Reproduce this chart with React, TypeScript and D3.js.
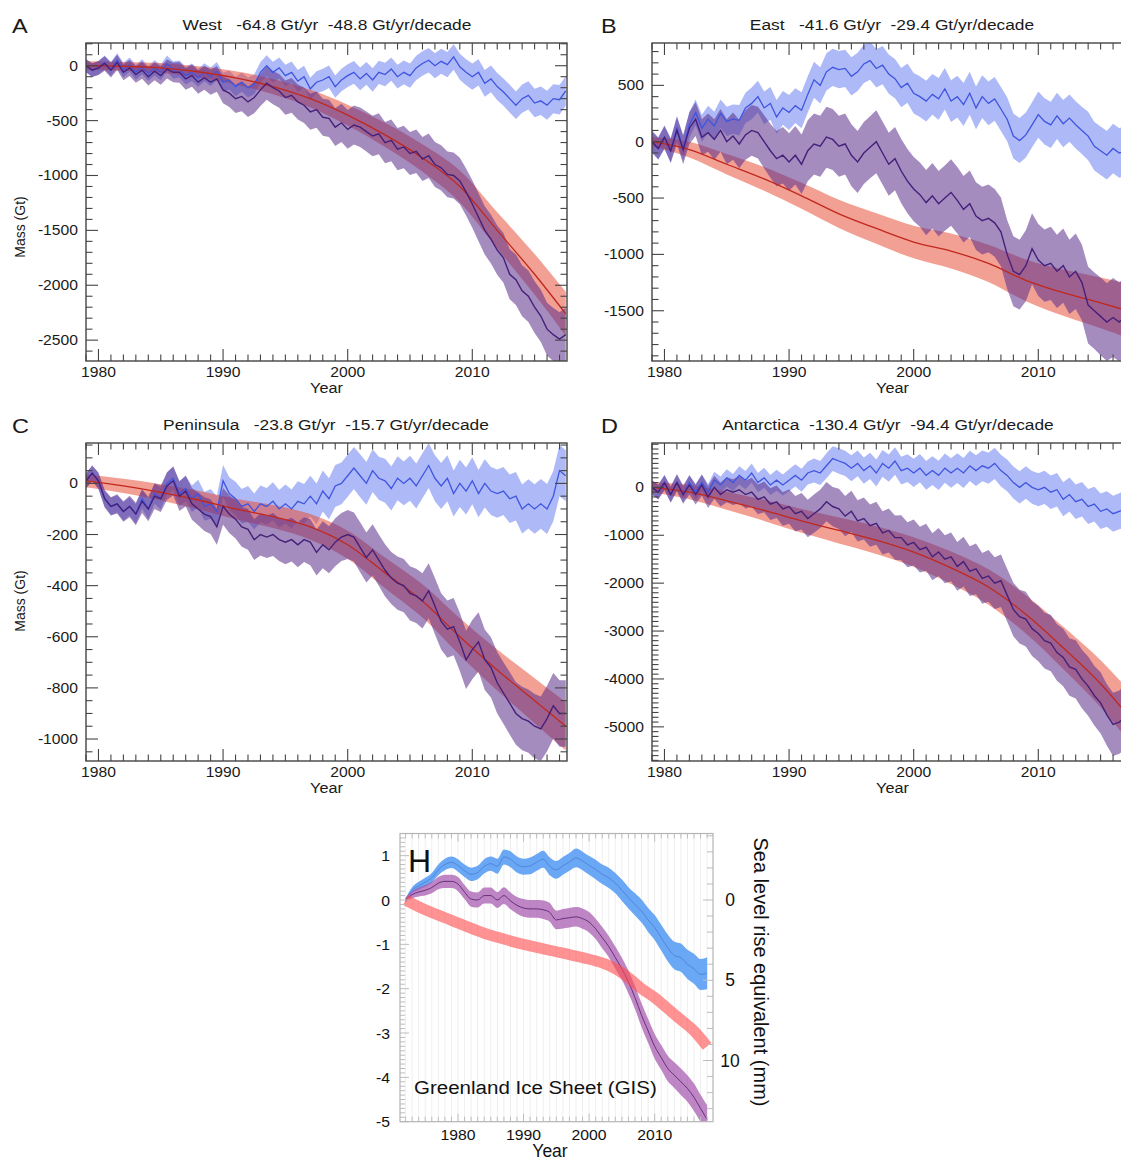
import React from 'react';
import * as d3 from 'd3';

// ---------- shared axis data ----------
const HALF_YEARS = d3.range(0, 78).map((i) => 1979 + i / 2);
const RED_YEARS = [1979, 1982, 1985, 1988, 1991, 1994, 1997, 2000, 2003, 2006, 2009, 2012, 2015, 2017.5];
const X_LABELS = [1980, 1990, 2000, 2010];

// ---------- A: West ----------
const WEST_BLUE = [
  0, -40, -20, 30, -30, 50, -40, 10, -60, -10, -70, -20, -60, 20,
  -40, -30, -90, -60, -110, -60, -100, -50, -150, -130, -190, -150, -200, -170,
  -60, 0, -60, -20, -90, -60, -140, -100, -210, -150, -130, -100, -190, -130, -90, -60, -120, -70, -130, -60, -80, -30, -100, -60,
  -90, -20, 20, 50, 0, 40, 10, 80, -10, -60, -100, -60, -160, -120, -190, -240,
  -300, -360, -300, -270, -340, -320, -360, -300, -310, -230,
];
const WEST_BLUE_ERR = [
  60, 60, 62, 62, 64, 64, 66, 66, 68, 68, 70, 70, 72, 72,
  78, 78, 80, 80, 82, 82, 84, 84, 86, 86, 88, 88, 90, 90,
  95, 95, 96, 96, 98, 98, 100, 100, 100, 100, 102, 102, 102, 102, 104, 104, 104, 104, 106, 106, 106, 106, 108, 108,
  110, 110, 112, 112, 114, 114, 116, 116, 118, 118, 120, 120, 122, 122, 124, 124,
  126, 126, 128, 128, 130, 130, 132, 132, 134, 134,
];
const WEST_PURPLE = [
  0, -40, -20, 20, -40, 30, -60, -20, -80, -40, -100, -50, -90, -30,
  -60, -60, -120, -90, -150, -110, -150, -120, -220, -250, -300, -280, -330, -290,
  -220, -160, -200, -230, -290, -270, -330, -360, -420, -400, -470, -480, -560, -520, -580, -540, -560, -600, -640, -620, -700, -680, -760, -740,
  -800, -780, -850, -820, -900, -930, -990, -1000, -1050, -1150, -1260, -1380, -1500, -1580, -1680, -1750,
  -1900, -1950, -2050, -2100, -2200, -2280, -2400, -2450, -2490, -2450,
];
const WEST_PURPLE_ERR = [
  60, 62, 64, 66, 68, 70, 72, 74, 76, 78, 80, 82, 84, 86,
  90, 94, 98, 102, 106, 110, 114, 118, 122, 126, 130, 134, 138, 142,
  146, 150, 152, 154, 156, 158, 160, 162, 164, 166, 168, 170, 172, 174, 176, 178, 180, 182, 184, 186, 188, 190, 192, 194,
  196, 198, 200, 202, 204, 206, 208, 210, 212, 214, 216, 218, 220, 222, 224, 226,
  228, 230, 232, 234, 236, 238, 240, 242, 244, 246,
];
const WEST_RED = [0, -5, -20, -55, -110, -190, -300, -450, -630, -840, -1100, -1500, -1900, -2260];
const WEST_RED_ERR = [40, 40, 45, 50, 60, 70, 80, 95, 110, 125, 145, 165, 185, 200];
const WEST_YTICKS = [0, -500, -1000, -1500, -2000, -2500];

// ---------- B: East ----------
const EAST_BLUE = [
  0, -60, 40, -80, 120, -60, 150, 260, 120, 200, 140, 250, 180, 200,
  190, 300, 340, 400, 300, 340, 220, 300, 260, 320, 280, 420, 550, 500,
  620, 660, 640, 650, 580, 620, 690, 720, 650, 680, 600, 560, 480, 520, 430, 400, 360, 420, 380, 470, 360, 400, 330, 430,
  300, 400, 340, 380, 290, 200, 50, 10, 60, 150, 240, 180, 150, 230, 160, 210,
  150, 100, 50, -40, -80, -120, -60, -100, -80, -50,
];
const EAST_BLUE_ERR = [
  100, 100, 105, 105, 110, 110, 115, 115, 120, 120, 125, 125, 130, 130,
  135, 135, 140, 140, 145, 145, 150, 150, 155, 155, 160, 160, 160, 160,
  165, 165, 165, 165, 170, 170, 170, 170, 170, 170, 175, 175, 175, 175, 180, 180, 180, 180, 185, 185, 185, 185, 190, 190,
  190, 190, 195, 195, 195, 195, 200, 200, 200, 200, 205, 205, 205, 205, 210, 210,
  210, 210, 215, 215, 215, 215, 220, 220, 220, 220,
];
const EAST_PURPLE = [
  0, -60, 40, -80, 100, -70, 120, 200, 40, 80, 20, 100, 0, 50,
  -20, 60, 100, 80, 0, -80, -150, -120, -180, -120, -200, -80, -20, -40,
  40, 20, -40, -20, -120, -180, -100, -50, 0, -100, -200, -150, -260, -350, -420, -470, -540, -480, -550, -500, -450, -520, -600, -550,
  -660, -700, -680, -720, -800, -1000, -1150, -1180, -1100, -950, -1050, -1100, -1080, -1150, -1100, -1200,
  -1150, -1250, -1450, -1500, -1550, -1600, -1560, -1600, -1550, -1500,
];
const EAST_PURPLE_ERR = [
  90, 95, 100, 110, 120, 130, 140, 150, 160, 170, 180, 190, 200, 210,
  215, 220, 225, 230, 235, 240, 245, 250, 255, 260, 265, 270, 270, 270,
  270, 270, 270, 270, 275, 275, 275, 275, 280, 280, 280, 280, 285, 285, 285, 285, 290, 290, 290, 290, 295, 295, 295, 295, 300, 300,
  300, 300, 305, 305, 310, 310, 315, 315, 320, 320, 325, 325, 330, 330, 335, 335,
  340, 340, 345, 345, 350, 350, 355, 355, 360, 360,
];
const EAST_RED = [0, -70, -200, -330, -480, -640, -770, -890, -970, -1080, -1230, -1340, -1430, -1510];
const EAST_RED_ERR = [40, 70, 90, 105, 115, 125, 135, 145, 155, 165, 185, 205, 225, 245];
const EAST_YTICKS = [500, 0, -500, -1000, -1500];

// ---------- C: Peninsula ----------
const PEN_BLUE = [
  10, 40, 10, -60, -90, -80, -110, -90, -120, -60, -100, -40, -60, 0,
  20, -40, -20, -60, -40, -90, -80, -110, 10, -40, -60, -90, -80, -110,
  -80, -90, -70, -100, -80, -100, -70, -80, -50, -80, -30, -60, -10, 0, 30, 60, 30, 0, 50, 20, 10, -20, 20, 0,
  20, -10, 30, 70, 20, -10, 20, -40, 0, -30, 10, -40, 0, -30, -40, -30,
  -60, -50, -100, -80, -100, -80, -100, -50, 50, 30,
];
const PEN_BLUE_ERR = [
  30, 30, 32, 32, 34, 34, 36, 36, 38, 38, 40, 40, 42, 42,
  46, 48, 50, 52, 54, 56, 58, 60, 62, 64, 66, 68, 70, 70,
  72, 72, 74, 74, 76, 76, 78, 78, 80, 80, 80, 80, 82, 82, 82, 82, 84, 84, 84, 84, 86, 86, 86, 86,
  88, 88, 88, 88, 90, 90, 90, 90, 92, 92, 92, 92, 94, 94, 94, 94,
  95, 95, 96, 96, 97, 97, 98, 98, 100, 100,
];
const PEN_PURPLE = [
  10, 40, 10, -60, -90, -80, -110, -90, -120, -70, -100, -50, -60, -10,
  10, -50, -30, -80, -100, -120, -130, -170, -90, -120, -140, -170, -180, -220,
  -200, -210, -200, -220, -230, -220, -240, -220, -230, -270, -240, -260, -230, -210, -200, -210, -250, -290, -260, -300, -340, -370, -390, -400,
  -430, -440, -460, -420, -480, -540, -570, -560, -620, -690, -650, -620, -690, -720, -780, -820,
  -860, -900, -920, -930, -950, -960, -920, -870, -900, -900,
];
const PEN_PURPLE_ERR = [
  30, 30, 32, 34, 36, 38, 40, 42, 44, 46, 48, 50, 52, 54,
  56, 58, 60, 62, 64, 66, 68, 70, 72, 74, 76, 78, 80, 80,
  82, 82, 84, 84, 86, 86, 88, 88, 90, 90, 92, 92, 94, 94, 96, 96, 98, 98, 100, 100, 102, 102, 104, 104,
  106, 106, 108, 108, 110, 110, 112, 112, 114, 114, 116, 116, 118, 118, 120, 120,
  122, 122, 124, 124, 126, 126, 128, 128, 130, 130,
];
const PEN_RED = [10, -10, -35, -65, -100, -130, -170, -240, -350, -460, -600, -730, -850, -950];
const PEN_RED_ERR = [25, 28, 32, 36, 40, 45, 50, 55, 60, 65, 72, 80, 88, 95];
const PEN_YTICKS = [0, -200, -400, -600, -800, -1000];

// ---------- D: Antarctica ----------
const ANT_BLUE = [
  0, -100, 100, -150, 100, -150, 100, -100, 100, -100, 150, 50, 200, 100,
  250, 150, 300, 100, 200, 50, 150, 50, 150, 250, 150, 300, 350, 300,
  450, 600, 550, 500, 400, 500, 350, 450, 300, 500, 400, 550, 350, 400, 300, 400, 250, 350, 250, 400, 300, 400, 300, 450,
  350, 450, 400, 500, 350, 250, 100, 0, 100, 0, -50, 0, -100, -50, -250, -150,
  -300, -250, -400, -350, -500, -450, -550, -500, -450, -400,
];
const ANT_BLUE_ERR = [
  150, 150, 155, 155, 160, 160, 165, 165, 170, 170, 175, 175, 180, 180,
  190, 190, 200, 200, 210, 210, 220, 220, 230, 230, 240, 240, 250, 250,
  260, 260, 265, 265, 270, 270, 275, 275, 280, 280, 285, 285, 290, 290, 295, 295, 300, 300, 305, 305, 310, 310, 315, 315, 320, 320,
  325, 325, 330, 330, 335, 335, 340, 340, 345, 345, 350, 350, 355, 355, 360, 360,
  365, 365, 370, 370, 375, 375, 380, 380, 385, 385,
];
const ANT_PURPLE = [
  0, -100, 100, -150, 100, -150, 50, -150, 50, -200, 0, -150, -50, -100,
  -50, -150, -100, -250, -200, -350, -300, -450, -400, -550, -500, -650, -550, -450,
  -300, -400, -450, -600, -500, -700, -650, -800, -750, -950, -900, -1050, -1050, -1200, -1150, -1300, -1250, -1450, -1350, -1500, -1450, -1650, -1550, -1750,
  -1700, -1900, -1850, -2000, -1950, -2250, -2550, -2700, -2750, -2950, -3050, -3200, -3250, -3450, -3550, -3750,
  -3800, -4000, -4150, -4350, -4500, -4750, -4950, -4900, -4800, -4750,
];
const ANT_PURPLE_ERR = [
  150, 155, 160, 170, 180, 190, 200, 210, 220, 230, 240, 250, 260, 270,
  280, 290, 300, 310, 320, 330, 340, 350, 360, 370, 380, 390, 400, 400,
  410, 410, 420, 420, 430, 430, 440, 440, 450, 450, 460, 460, 470, 470, 480, 480, 490, 490, 500, 500, 510, 510, 520, 520,
  530, 530, 540, 540, 550, 550, 560, 560, 570, 570, 580, 580, 590, 590, 600, 600,
  610, 610, 620, 620, 640, 640, 660, 660, 680, 680,
];
const ANT_RED = [0, -100, -280, -480, -700, -900, -1100, -1350, -1680, -2080, -2650, -3350, -4100, -4850];
const ANT_RED_ERR = [100, 150, 190, 220, 250, 270, 290, 310, 340, 370, 400, 440, 490, 540];
const ANT_YTICKS = [0, -1000, -2000, -3000, -4000, -5000];

// ---------- H: Greenland ----------
const GIS_YEARS = d3.range(1972, 2019);
const GIS_BLUE = [
  0, 0.22, 0.32, 0.4, 0.5, 0.68, 0.8, 0.85, 0.78, 0.66,
  0.58, 0.62, 0.76, 0.82, 0.76, 0.97, 0.92, 0.8, 0.75, 0.77,
  0.85, 0.92, 0.76, 0.68, 0.77, 0.86, 0.95, 0.88, 0.78, 0.69,
  0.58, 0.5, 0.38, 0.22, 0.05, -0.1, -0.25, -0.45, -0.62, -0.85,
  -1.08, -1.25, -1.3, -1.45, -1.55, -1.68, -1.65,
];
const GIS_BLUE_ERR = [
  0.04, 0.07, 0.09, 0.1, 0.11, 0.12, 0.13, 0.13, 0.14, 0.14,
  0.15, 0.15, 0.16, 0.16, 0.17, 0.17, 0.18, 0.18, 0.18, 0.19,
  0.19, 0.19, 0.2, 0.2, 0.2, 0.2, 0.21, 0.21, 0.21, 0.22,
  0.22, 0.23, 0.23, 0.24, 0.24, 0.25, 0.26, 0.27, 0.28, 0.29,
  0.3, 0.31, 0.32, 0.33, 0.34, 0.35, 0.36,
];
const GIS_PURPLE = [
  0, 0.12, 0.18, 0.22, 0.28, 0.38, 0.42, 0.42, 0.36, 0.18,
  0.02, 0.0, 0.1, 0.1, 0.0, 0.1, -0.02, -0.12, -0.18, -0.2,
  -0.2, -0.22, -0.28, -0.45, -0.42, -0.4, -0.38, -0.42, -0.5, -0.65,
  -0.85, -1.05, -1.3, -1.55, -1.85, -2.2, -2.6, -2.95, -3.3, -3.55,
  -3.8, -3.95, -4.1, -4.25, -4.45, -4.7, -4.95,
];
const GIS_PURPLE_ERR = [
  0.05, 0.08, 0.1, 0.12, 0.13, 0.14, 0.15, 0.15, 0.16, 0.16,
  0.17, 0.17, 0.18, 0.18, 0.18, 0.19, 0.19, 0.19, 0.2, 0.2,
  0.2, 0.21, 0.21, 0.21, 0.22, 0.22, 0.22, 0.23, 0.23, 0.23,
  0.24, 0.24, 0.25, 0.25, 0.26, 0.26, 0.27, 0.27, 0.28, 0.28,
  0.29, 0.29, 0.3, 0.3, 0.31, 0.31, 0.32,
];
const GIS_RED_YEARS = [1972, 1975, 1978, 1981, 1984, 1987, 1990, 1993, 1996, 1999, 2002, 2004, 2006, 2008, 2010, 2012, 2014, 2016, 2018];
const GIS_RED = [0, -0.22, -0.4, -0.58, -0.75, -0.88, -1.0, -1.1, -1.2, -1.3, -1.42, -1.55, -1.75, -2.0, -2.2, -2.45, -2.7, -2.95, -3.3];
const GIS_YTICKS = [1, 0, -1, -2, -3, -4, -5];
const GIS_XLABELS = [1980, 1990, 2000, 2010];
const GIS_MM_LABELS = [0, 5, 10];
const GT_PER_MM = 0.362; // thousand Gt per mm of sea level

const FONT = '"Liberation Sans", Arial, Helvetica, sans-serif';
const SX = 1.12; // horizontal stretch of the original figure's lettering

const C = {
  blueBand: '#6b7ff0',
  blueLine: '#3f55e0',
  redBand: '#e8503c',
  redLine: '#c0281e',
  purpleBand: '#5a2d8a',
  purpleLine: '#45207a',
  frame: '#444',
  text: '#1a1a1a',
};

function SText({
  x, y, size, anchor = 'start', sx = SX, children,
}: { x: number; y: number; size: number; anchor?: string; sx?: number; children: any }) {
  return (
    <text
      transform={`translate(${x},${y}) scale(${sx},1)`}
      fontSize={size}
      textAnchor={anchor as any}
      style={{ whiteSpace: 'pre' }}
    >
      {children}
    </text>
  );
}

type PanelSpec = {
  id: string;
  letter: string;
  letterX: number;
  title: string;
  titleX: number;
  x0: number;
  y0: number;
  w: number;
  h: number;
  yDomain: [number, number];
  yTicks: number[];
  yMinor: number;
  yLabel?: { x: number; y: number };
  blue: number[];
  blueErr: number[];
  purple: number[];
  purpleErr: number[];
  red: number[];
  redErr: number[];
};

function Panel({ p }: { p: PanelSpec }) {
  const x = d3.scaleLinear().domain([1979, 2017.6]).range([p.x0, p.x0 + p.w]);
  const y = d3.scaleLinear().domain(p.yDomain).range([p.y0 + p.h, p.y0]);
  const bandPath = (vals: number[], errs: number[], xs: number[], curve: any) =>
    d3
      .area<number>()
      .curve(curve)
      .x((_, i) => x(xs[i]))
      .y0((d, i) => y(d - errs[i]))
      .y1((d, i) => y(d + errs[i]))(vals) || '';
  const linePath = (vals: number[], xs: number[], curve: any) =>
    d3
      .line<number>()
      .curve(curve)
      .x((_, i) => x(xs[i]))
      .y((d) => y(d))(vals) || '';

  const xMinor = d3.range(1979, 2018, 1);
  const yMin = p.yDomain[0];
  const yMax = p.yDomain[1];
  const yMinorVals = d3.range(Math.ceil(yMin / p.yMinor) * p.yMinor, yMax, p.yMinor);
  const L = p.x0, R = p.x0 + p.w, T = p.y0, B = p.y0 + p.h;
  const MAJ = 12, MIN = 6.5;

  return (
    <g fontFamily={FONT} fill={C.text}>
      <defs>
        <clipPath id={'clip' + p.id}>
          <rect x={L} y={T} width={p.w} height={p.h} />
        </clipPath>
      </defs>
      <SText x={p.letterX} y={p.y0 - 10} size={21}>{p.letter}</SText>
      <SText x={p.titleX} y={p.y0 - 13} size={15.5} anchor="middle">{p.title}</SText>
      <g clipPath={`url(#clip${p.id})`}>
        <path d={bandPath(p.blue, p.blueErr, HALF_YEARS, d3.curveLinear)} fill={C.blueBand} fillOpacity={0.55} />
        <path d={bandPath(p.red, p.redErr, RED_YEARS, d3.curveMonotoneX)} fill={C.redBand} fillOpacity={0.55} />
        <path d={bandPath(p.purple, p.purpleErr, HALF_YEARS, d3.curveLinear)} fill={C.purpleBand} fillOpacity={0.55} />
        <path d={linePath(p.blue, HALF_YEARS, d3.curveLinear)} fill="none" stroke={C.blueLine} strokeWidth={1.3} />
        <path d={linePath(p.red, RED_YEARS, d3.curveMonotoneX)} fill="none" stroke={C.redLine} strokeWidth={1.3} />
        <path d={linePath(p.purple, HALF_YEARS, d3.curveLinear)} fill="none" stroke={C.purpleLine} strokeWidth={1.4} />
      </g>
      <g stroke={C.frame} strokeWidth={1.1}>
        {xMinor.map((v) => {
          const len = v % 10 === 0 ? MAJ : MIN;
          const xx = x(v);
          return (
            <g key={'xt' + v}>
              <line x1={xx} x2={xx} y1={B} y2={B - len} />
              <line x1={xx} x2={xx} y1={T} y2={T + len} />
            </g>
          );
        })}
        {yMinorVals.map((v) => {
          const major = p.yTicks.some((t) => Math.abs(t - v) < 1e-6);
          const len = major ? MAJ : MIN;
          const yy = y(v);
          return (
            <g key={'yt' + v}>
              <line x1={L} x2={L + len} y1={yy} y2={yy} />
              <line x1={R} x2={R - len} y1={yy} y2={yy} />
            </g>
          );
        })}
      </g>
      <rect x={L} y={T} width={p.w} height={p.h} fill="none" stroke={C.frame} strokeWidth={1.4} />
      {X_LABELS.map((v) => (
        <SText key={'xl' + v} x={x(v)} y={B + 16} size={14} anchor="middle">{v}</SText>
      ))}
      <SText x={(L + R) / 2} y={B + 32} size={14.5} anchor="middle">Year</SText>
      {p.yTicks.map((v) => (
        <SText key={'yl' + v} x={L - 8} y={y(v) + 5} size={14} anchor="end">{v}</SText>
      ))}
      {p.yLabel && (
        <text
          transform={`translate(${p.yLabel.x},${p.yLabel.y}) rotate(-90)`}
          fontSize={14}
          textAnchor="middle"
        >
          Mass (Gt)
        </text>
      )}
    </g>
  );
}

function Greenland() {
  const L = 400, R = 713, T = 833.5, B = 1121.7;
  const x = d3.scaleLinear().domain([1971.15, 2018.9]).range([L, R]);
  const y = d3.scaleLinear().domain([-5, 1.5]).range([B, T]);
  const band = (vals: number[], errs: number[]) =>
    d3
      .area<number>()
      .curve(d3.curveMonotoneX)
      .x((_, i) => x(GIS_YEARS[i]))
      .y0((d, i) => y(d - errs[i]))
      .y1((d, i) => y(d + errs[i]))(vals) || '';
  const line = (vals: number[], xs: number[]) =>
    d3
      .line<number>()
      .curve(d3.curveMonotoneX)
      .x((_, i) => x(xs[i]))
      .y((d) => y(d))(vals) || '';
  const years = d3.range(1972, 2019);
  const yMinor = d3.range(-5, 1.5001, 0.1);
  const mmTicks = d3.range(-4, 14, 1);
  return (
    <g fontFamily={FONT} fill="#111">
      <rect x={L} y={T} width={R - L} height={B - T} fill="#fff" />
      <g stroke="#efefef" strokeWidth={1}>
        {years.map((v) => (
          <line key={'g' + v} x1={x(v)} x2={x(v)} y1={T} y2={B} />
        ))}
      </g>
      <defs>
        <clipPath id="clipH">
          <rect x={L} y={T} width={R - L} height={B - T} />
        </clipPath>
      </defs>
      <g clipPath="url(#clipH)">
        <path d={band(GIS_BLUE, GIS_BLUE_ERR)} fill="#5a9df3" fillOpacity={0.9} />
        <path d={line(GIS_BLUE, GIS_YEARS)} fill="none" stroke="#4a7fd2" strokeWidth={0.8} />
        <path d={band(GIS_PURPLE, GIS_PURPLE_ERR)} fill="#a658ae" fillOpacity={0.72} />
        <path d={line(GIS_PURPLE, GIS_YEARS)} fill="none" stroke="#5c2770" strokeWidth={0.9} />
        <path
          d={line(GIS_RED, GIS_RED_YEARS)}
          fill="none"
          stroke="#ff4f4f"
          strokeOpacity={0.62}
          strokeWidth={11}
          strokeLinecap="butt"
        />
      </g>
      <g stroke="#bdbdbd" strokeWidth={1}>
        {years.map((v) => (
          <g key={'hx' + v}>
            <line x1={x(v)} x2={x(v)} y1={B} y2={B - (v % 10 === 0 ? 8 : 5)} />
            <line x1={x(v)} x2={x(v)} y1={T} y2={T + (v % 10 === 0 ? 8 : 5)} />
          </g>
        ))}
        {yMinor.map((v, i) => (
          <line key={'hy' + i} x1={L} x2={L + (Math.abs(v - Math.round(v)) < 1e-6 ? 9 : 5)} y1={y(v)} y2={y(v)} />
        ))}
        {mmTicks.map((m) => (
          <line
            key={'hm' + m}
            x1={R}
            x2={R - (m % 5 === 0 ? 10 : 6)}
            y1={y(-m * GT_PER_MM)}
            y2={y(-m * GT_PER_MM)}
          />
        ))}
      </g>
      <rect x={L} y={T} width={R - L} height={B - T} fill="none" stroke="#b5b5b5" strokeWidth={1.2} />
      {GIS_YTICKS.map((v) => (
        <SText key={'hl' + v} x={L - 10} y={y(v) + 5.5} size={15} anchor="end" sx={1.05}>{v}</SText>
      ))}
      {GIS_XLABELS.map((v) => (
        <SText key={'hxl' + v} x={x(v)} y={B + 18} size={15} anchor="middle" sx={1.05}>{v}</SText>
      ))}
      {GIS_MM_LABELS.map((m) => (
        <text key={'hml' + m} x={R + 17} y={y(-m * GT_PER_MM) + 6} fontSize={17.5} textAnchor="middle">{m}</text>
      ))}
      <text x={550} y={1157} fontSize={17.5} textAnchor="middle">Year</text>
      <text transform="translate(754,972) rotate(90)" fontSize={20} textAnchor="middle">
        Sea level rise equivalent (mm)
      </text>
      <text x={408} y={872} fontSize={32}>H</text>
      <SText x={414} y={1094} size={19} sx={1.08}>Greenland Ice Sheet (GIS)</SText>
    </g>
  );
}

const PANELS: PanelSpec[] = [
  {
    id: 'A', letter: 'A', letterX: 12, title: 'West   -64.8 Gt/yr  -48.8 Gt/yr/decade', titleX: 327,
    x0: 86, y0: 43, w: 481, h: 318, yDomain: [-2690, 207], yTicks: WEST_YTICKS, yMinor: 100,
    yLabel: { x: 25, y: 227 },
    blue: WEST_BLUE, blueErr: WEST_BLUE_ERR, purple: WEST_PURPLE, purpleErr: WEST_PURPLE_ERR, red: WEST_RED, redErr: WEST_RED_ERR,
  },
  {
    id: 'B', letter: 'B', letterX: 601, title: 'East   -41.6 Gt/yr  -29.4 Gt/yr/decade', titleX: 892,
    x0: 652, y0: 43, w: 481, h: 318, yDomain: [-1946, 876], yTicks: EAST_YTICKS, yMinor: 100,
    blue: EAST_BLUE, blueErr: EAST_BLUE_ERR, purple: EAST_PURPLE, purpleErr: EAST_PURPLE_ERR, red: EAST_RED, redErr: EAST_RED_ERR,
  },
  {
    id: 'C', letter: 'C', letterX: 12, title: 'Peninsula   -23.8 Gt/yr  -15.7 Gt/yr/decade', titleX: 326,
    x0: 86, y0: 443, w: 481, h: 318, yDomain: [-1086, 158], yTicks: PEN_YTICKS, yMinor: 50,
    yLabel: { x: 25, y: 601 },
    blue: PEN_BLUE, blueErr: PEN_BLUE_ERR, purple: PEN_PURPLE, purpleErr: PEN_PURPLE_ERR, red: PEN_RED, redErr: PEN_RED_ERR,
  },
  {
    id: 'D', letter: 'D', letterX: 601, title: 'Antarctica  -130.4 Gt/yr  -94.4 Gt/yr/decade', titleX: 888,
    x0: 652, y0: 443, w: 481, h: 318, yDomain: [-5713, 926], yTicks: ANT_YTICKS, yMinor: 100,
    blue: ANT_BLUE, blueErr: ANT_BLUE_ERR, purple: ANT_PURPLE, purpleErr: ANT_PURPLE_ERR, red: ANT_RED, redErr: ANT_RED_ERR,
  },
];

export default function App() {
  return (
    <svg
      width={1121}
      height={1162}
      viewBox="0 0 1121 1162"
      style={{ position: 'absolute', left: 0, top: 0, background: '#fff' }}
    >
      <rect x={0} y={0} width={1121} height={1162} fill="#fff" />
      {PANELS.map((p) => (
        <Panel key={p.id} p={p} />
      ))}
      <Greenland />
    </svg>
  );
}
